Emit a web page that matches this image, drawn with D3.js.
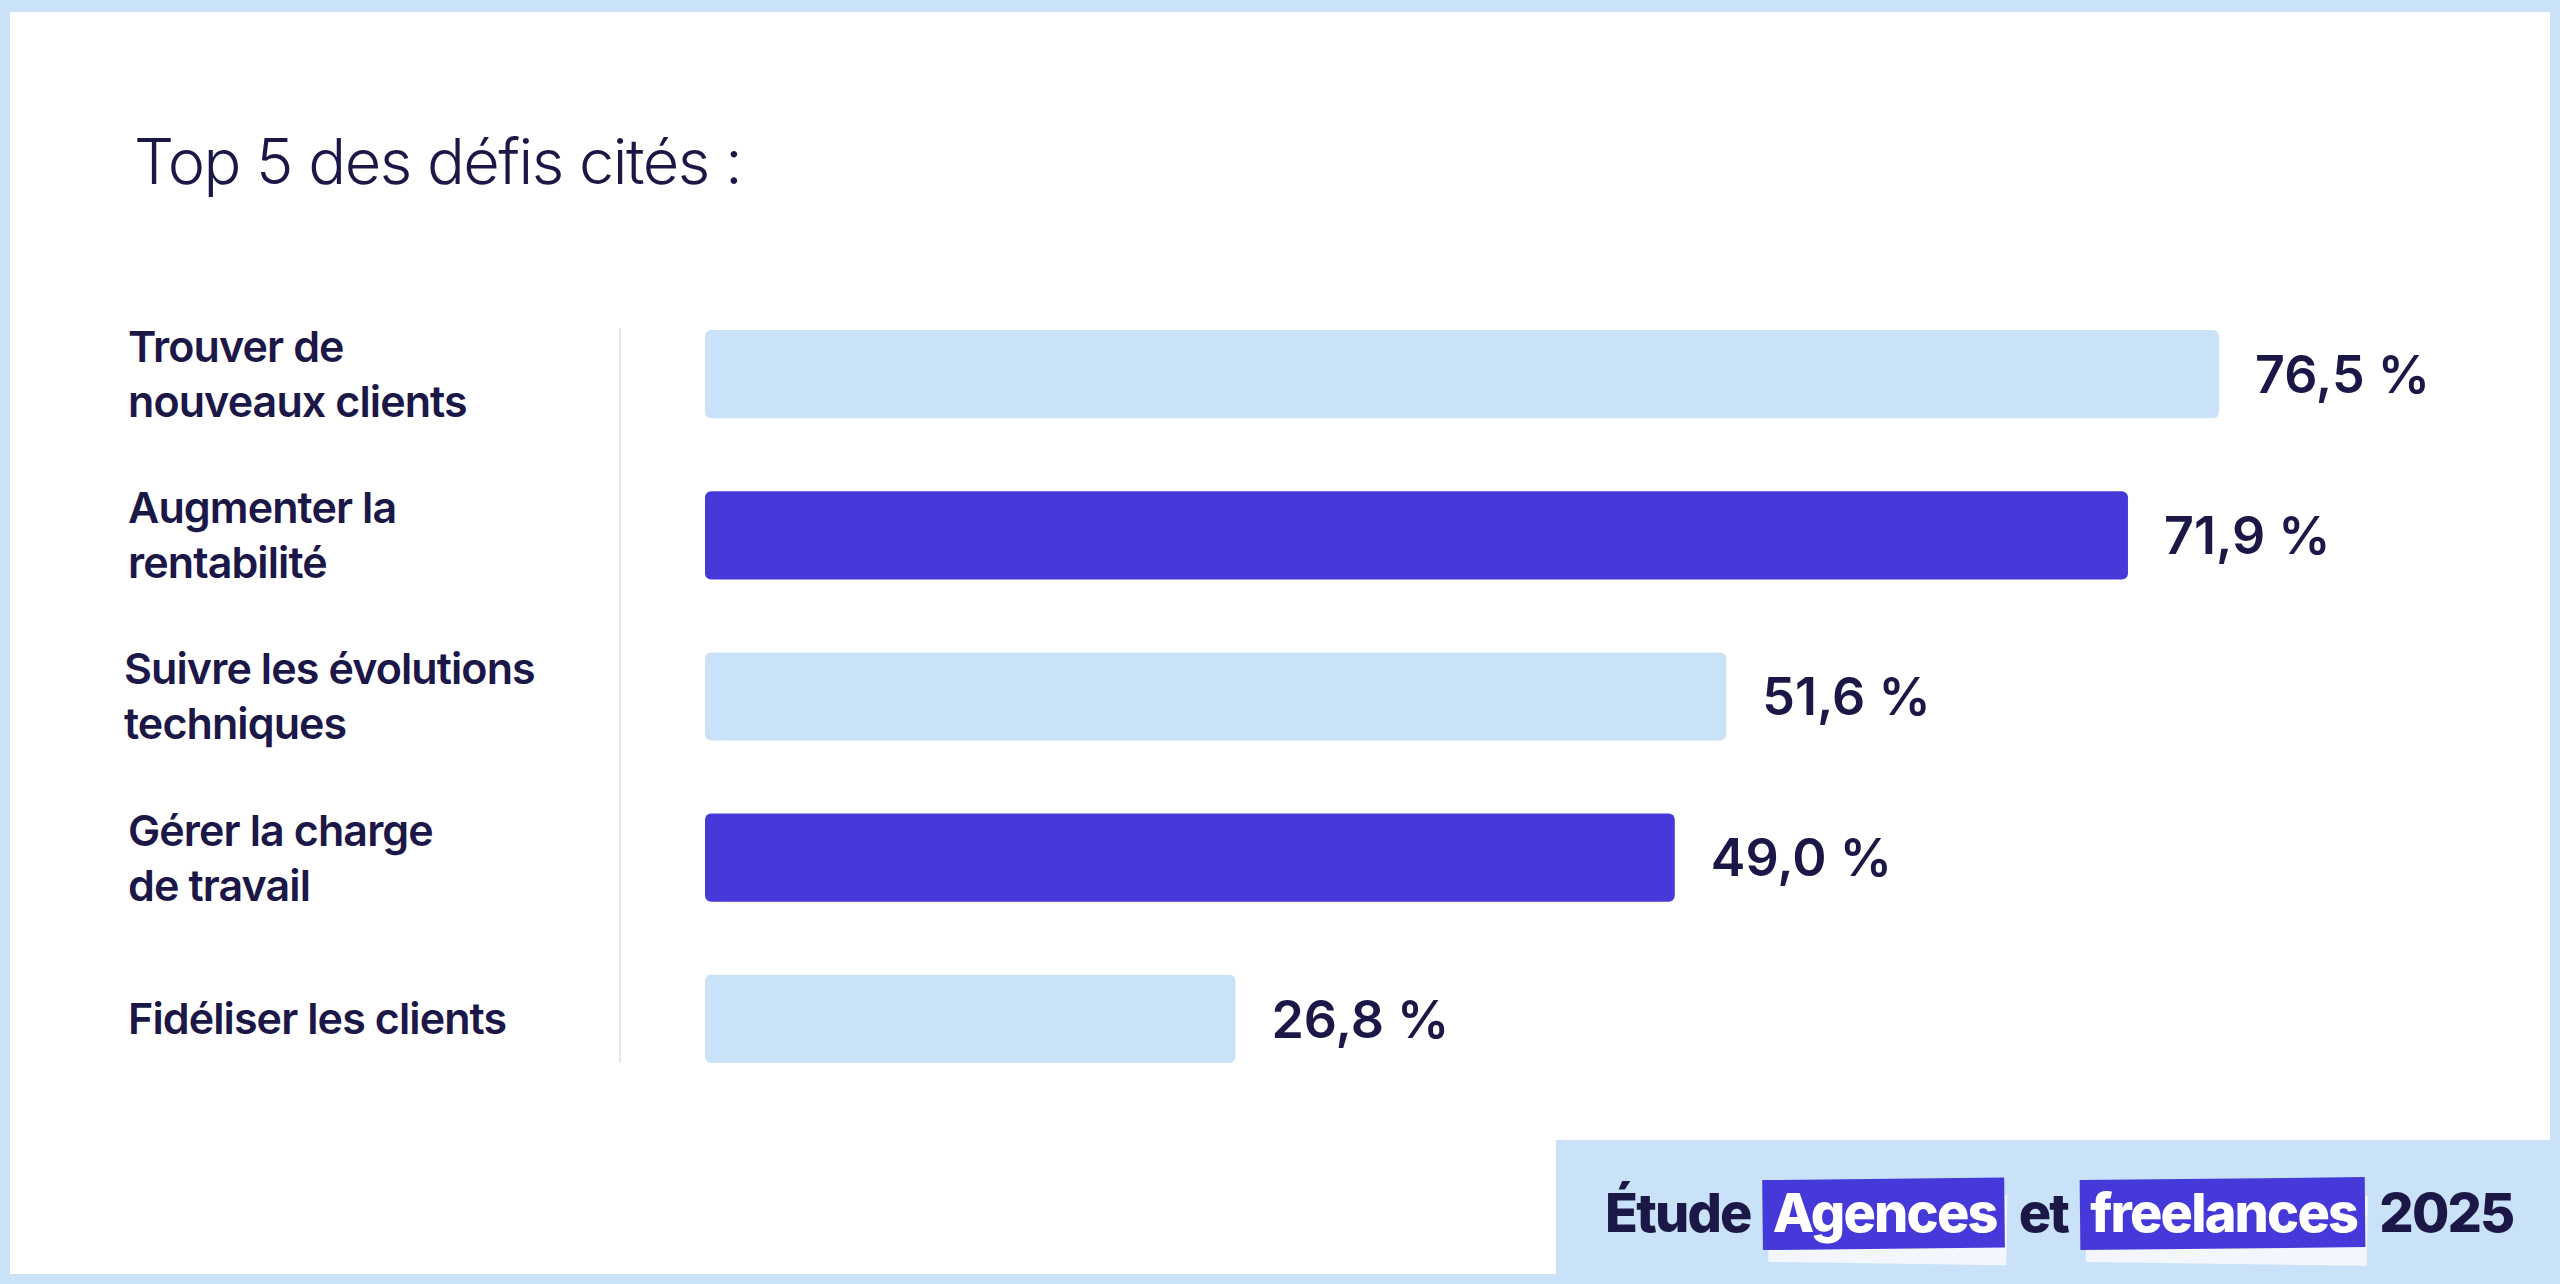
<!DOCTYPE html>
<html><head><meta charset="utf-8">
<script src="https://cdn.jsdelivr.net/npm/d3@7"></script>
<style>html,body{margin:0;padding:0;background:#c9e2f8;}svg{display:block;font-family:Inter,"Noto Sans",sans-serif;}</style>
</head><body>
<svg id="c" width="2560" height="1284"></svg>
<script>
const categories = [["Trouver de","nouveaux clients"],["Augmenter la","rentabilité"],["Suivre les évolutions","techniques"],["Gérer la charge","de travail"],["Fidéliser les clients"]];
const values = [76.5, 71.9, 51.6, 49.0, 26.8];
const valueLabels = ["76,5 %","71,9 %","51,6 %","49,0 %","26,8 %"];
const barColors = ["#c9e2f8","#4539d9","#c9e2f8","#4539d9","#c9e2f8"];
const title = "Top 5 des défis cités :";

const navy = "#1b1747";
const svg = d3.select("#c");
svg.append("rect").attr("width",2560).attr("height",1284).attr("fill","#c9e2f8");
svg.append("rect").attr("x",10).attr("y",12).attr("width",2540).attr("height",1262).attr("fill","#fff");

svg.append("text").attr("x",134).attr("y",184).attr("font-size",63).attr("font-weight",300)
  .attr("fill",navy).attr("letter-spacing",-1.5).text(title);

const x = d3.scaleLinear().domain([0, 76.5]).range([705, 2219]);
const y = d3.scaleBand().domain(d3.range(values.length)).range([330, 1063]).paddingInner(0.453).paddingOuter(0);

svg.append("line").attr("x1",620).attr("x2",620).attr("y1",328).attr("y2",1063).attr("stroke","#e6e8ee").attr("stroke-width",2);

const g = svg.append("g");
values.forEach((v,i)=>{
  const yy = y(i), h = y.bandwidth();
  g.append("rect").attr("x",x(0)).attr("y",yy).attr("width",x(v)-x(0)).attr("height",h)
    .attr("rx",6).attr("fill",barColors[i]);
  g.append("text").attr("x",x(v)+36).attr("y",yy+h/2).attr("dy","0.36em")
    .attr("font-size",52).attr("font-weight",600).attr("fill",navy).text(valueLabels[i]);
  const lines = categories[i];
  const cy = yy+h/2;
  lines.forEach((l,j)=>{
    g.append("text").attr("x",i===2?124:128).attr("y",cy + (j-(lines.length-1)/2)*55).attr("dy","0.36em")
      .attr("font-size",43).attr("font-weight",600).attr("letter-spacing",-0.9).attr("fill",navy).text(l);
  });
});

// footer badge
svg.append("rect").attr("x",1556).attr("y",1140).attr("width",1004).attr("height",144).attr("fill","#c9e2f8");
const parts = [["Étude",false],["Agences",true],["et",false],["freelances",true],["2025",false]];
let cx = 1605; const by = 1232; const gap = 22;
const fg = svg.append("g");
parts.forEach(([t,hl])=>{
  const tmp = fg.append("text").attr("x",cx).attr("y",by).attr("font-size",54).attr("font-weight",800)
    .attr("letter-spacing",-1.8).attr("fill",hl?"#fff":navy).text(t);
  const w = tmp.node().getComputedTextLength();
  if(hl){
    const b = fg.insert("g", () => tmp.node());
    b.append("rect").attr("x",cx-4).attr("y",by-40).attr("width",w+14).attr("height",70).attr("fill","#f4f6fd")
      .attr("transform",`rotate(0.8 ${cx} ${by})`);
    b.append("rect").attr("x",cx-10).attr("y",by-52).attr("width",w+18).attr("height",70).attr("fill","#4539d9")
      .attr("transform",`rotate(-0.6 ${cx} ${by})`);
  }
  cx += w + gap;
});
</script>
</body></html>
